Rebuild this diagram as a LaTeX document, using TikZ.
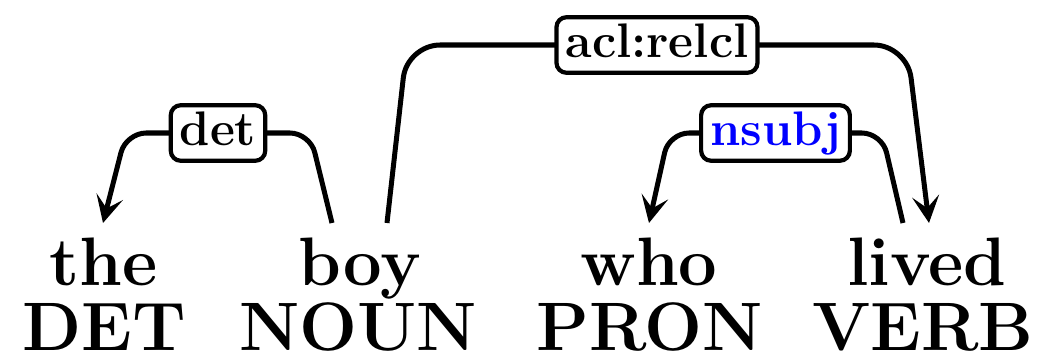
\documentclass[tikz,border=0pt]{standalone}
\usepackage{tikz}
\usetikzlibrary{arrows.meta,calc}

\tikzset{
  word/.style={font=\fontsize{19.5}{22}\selectfont\bfseries, inner sep=0pt, anchor=base},
  deplabel/.style={draw, fill=white, rounded corners=0.1cm, line width=0.042cm,
    font=\fontsize{13.8}{16}\selectfont\bfseries, inner xsep=0.09cm, inner ysep=0.06cm,
    text height=0.34cm, text depth=0.095cm},
  dep/.style={line width=0.05cm, -{Stealth[length=0.27cm,width=0.27cm,inset=0.12cm]}},
}

\begin{document}
\begin{tikzpicture}[x=0.01cm, y=0.01cm]
  \useasboundingbox (0,0) rectangle (1047,354);

  \node[word] (the) at (104,69) {the};
  \node[word] (boy) at (360,69) {boy};
  \node[word] (who) at (649,69) {who};
  \node[word] (lived) at (927,69) {lived};

  \node[word] (tagdet) at (104,4) {DET};
  \node[word] (tagnoun) at (358,4) {NOUN};
  \node[word] (tagpron) at (650,4) {PRON};
  \node[word] (tagverb) at (923,4) {VERB};

  % arcs
  \draw[dep, rounded corners=0.2cm] ($(boy.base)+(-28,62)$) --
    ($(boy.base)+(-50,152)$) -- node[deplabel] (lbldet) {det}
    ($(the.base)+(22,152)$) -- ($(the.base)+(-1,62)$);

  \draw[dep, rounded corners=0.33cm] ($(boy.base)+(27,62)$) --
    ($(boy.base)+(47,240)$) -- node[deplabel] (lblacl) {acl:relcl}
    ($(lived.base)+(-20,240)$) -- ($(lived.base)+(2,62)$);

  \draw[dep, rounded corners=0.2cm] ($(lived.base)+(-24,62)$) --
    ($(lived.base)+(-45,152)$) -- node[deplabel, text=blue] (lblnsubj) {nsubj}
    ($(who.base)+(20,152)$) -- ($(who.base)+(0,62)$);
\end{tikzpicture}
\end{document}
